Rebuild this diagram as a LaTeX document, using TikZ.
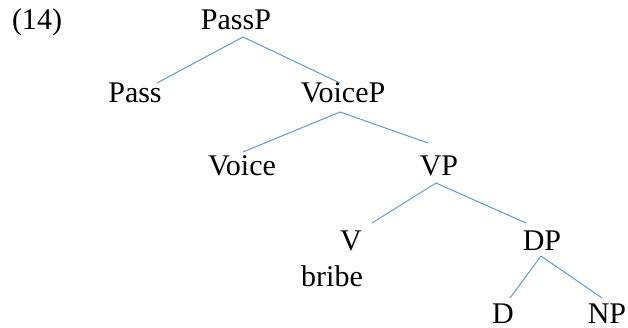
\documentclass[tikz,border=0pt]{standalone}
\usepackage{fontspec}
\setmainfont{Liberation Serif}
\definecolor{branchblue}{RGB}{91,155,213}
\begin{document}
\begin{tikzpicture}[x=1pt,y=-1pt,
  lab/.style={anchor=base,inner sep=0pt,font=\fontsize{30}{36}\selectfont},
  branch/.style={draw=branchblue,line width=1pt}]
\useasboundingbox (0,0) rectangle (628,328);
\node[lab] (ex) at (37,30) {(14)};
\node[lab] (PassP) at (236,30) {PassP};
\node[lab] (Pass) at (135,103) {Pass};
\node[lab] (VoiceP) at (343,103) {VoiceP};
\node[lab] (Voice) at (242,176) {Voice};
\node[lab] (VP) at (439,176) {VP};
\node[lab] (V) at (351,251) {V};
\node[lab] (bribe) at (332,287) {bribe};
\node[lab] (DP) at (542,251) {DP};
\node[lab] (D) at (503,323) {D};
\node[lab] (NP) at (607,323) {NP};
\draw[branch] ([shift={(7,7)}]PassP.base) -- ([shift={(22,-20)}]Pass.base);
\draw[branch] ([shift={(7,7)}]PassP.base) -- ([shift={(-3,-20)}]VoiceP.base);
\draw[branch] ([shift={(-3,9)}]VoiceP.base) -- ([shift={(1,-24)}]Voice.base);
\draw[branch] ([shift={(-3,9)}]VoiceP.base) -- ([shift={(-11,-33)}]VP.base);
\draw[branch] ([shift={(-3,7)}]VP.base) -- ([shift={(21,-28)}]V.base);
\draw[branch] ([shift={(-3,7)}]VP.base) -- ([shift={(-16,-28)}]DP.base);
\draw[branch] ([shift={(-1,5)}]DP.base) -- ([shift={(7,-25)}]D.base);
\draw[branch] ([shift={(-1,5)}]DP.base) -- ([shift={(-5,-25)}]NP.base);
\end{tikzpicture}
\end{document}
